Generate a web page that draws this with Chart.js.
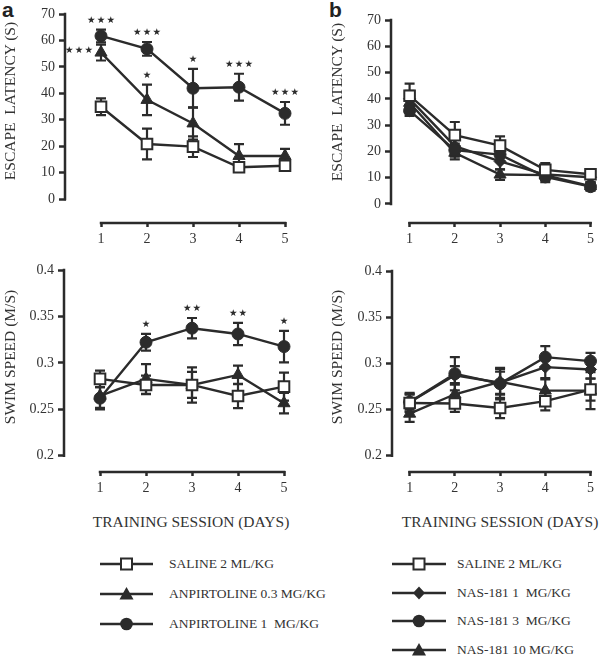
<!DOCTYPE html>
<html>
<head>
<meta charset="utf-8">
<script src="https://cdn.jsdelivr.net/npm/chart.js@4.4.1/dist/chart.umd.min.js"></script>
<style>
  body { margin: 0; background: #fff; }
  #wrap { position: relative; width: 600px; height: 658px; overflow: hidden;
          font-family: "Liberation Serif", "Times New Roman", serif; color: #333; }
  .plot { position: absolute; }
  .ytitle { position: absolute; transform: translate(-50%, -50%) rotate(-90deg);
            white-space: pre; font-size: 15.5px; }
  .xtitle { position: absolute; transform: translate(-50%, -50%); white-space: pre; font-size: 15.5px; }
  .letter { position: absolute; top: -2px; font: bold 21px "Liberation Sans", Arial, sans-serif; color: #222; }
  .leg { position: absolute; height: 16px; display: flex; align-items: center; font-size: 13.5px; white-space: pre; }
  .leg svg { position: absolute; top: 0; }
</style>
</head>
<body>
<div id="wrap">
  <div class="letter" style="left:2px">a</div>
  <div class="letter" style="left:329px">b</div>

  <div class="plot" style="left:0;top:0"><canvas id="latA" width="300" height="255"></canvas></div>
  <div class="plot" style="left:300px;top:0"><canvas id="latB" width="300" height="255"></canvas></div>
  <div class="plot" style="left:0;top:255px"><canvas id="spdA" width="300" height="245"></canvas></div>
  <div class="plot" style="left:300px;top:255px"><canvas id="spdB" width="300" height="245"></canvas></div>

  <div class="ytitle" style="left:10px;top:101px">ESCAPE  LATENCY (S)</div>
  <div class="ytitle" style="left:337px;top:102px">ESCAPE  LATENCY (S)</div>
  <div class="ytitle" style="left:10px;top:357px">SWIM SPEED (M/S)</div>
  <div class="ytitle" style="left:337px;top:357px">SWIM SPEED (M/S)</div>
  <div class="xtitle" style="left:191px;top:522px">TRAINING SESSION (DAYS)</div>
  <div class="xtitle" style="left:500px;top:522px">TRAINING SESSION (DAYS)</div>

  <div id="legA"></div>
  <div id="legB"></div>
</div>

<script>
const days = [1, 2, 3, 4, 5];
const latencyTicks = [0, 10, 20, 30, 40, 50, 60, 70];
const speedTicks = [0.2, 0.25, 0.3, 0.35, 0.4];

// panel a - escape latency (s)
const salineA_lat = [34.9, 20.8, 19.8, 12.0, 12.6];
const salineA_latErr = [3.2, 5.8, 3.9, 1.5, 1.3];
const anp03_lat = [55.4, 37.5, 28.6, 16.3, 16.3];
const anp03_latErr = [3.0, 5.8, 6.1, 4.5, 2.7];
const anp1_lat = [61.7, 56.8, 41.9, 42.3, 32.4];
const anp1_latErr = [2.4, 2.6, 7.3, 5.1, 4.3];
const anp03_latStars = [3, 1, 0, 0, 0];
const anp1_latStars = [3, 3, 1, 3, 3];

// panel a - swim speed (m/s)
const salineA_spd = [0.2827, 0.2762, 0.2762, 0.2643, 0.2744];
const salineA_spdErr = [0.009, 0.010, 0.014, 0.013, 0.015];
const anp03_spd = [0.2645, 0.2827, 0.2762, 0.2870, 0.2565];
const anp03_spdErr = [0.013, 0.016, 0.019, 0.010, 0.011];
const anp1_spd = [0.2619, 0.3222, 0.3373, 0.3311, 0.3175];
const anp1_spdErr = [0.012, 0.009, 0.011, 0.012, 0.017];
const anp1_spdStars = [0, 1, 2, 2, 1];

// panel b - escape latency (s)
const salineB_lat = [41.2, 26.2, 22.2, 13.0, 11.3];
const salineB_latErr = [4.6, 5.0, 3.5, 2.6, 1.6];
const nas1_lat = [40.0, 22.0, 16.2, 11.2, 10.2];
const nas1_latErr = [3.0, 3.0, 3.0, 2.0, 2.0];
const nas3_lat = [35.5, 20.5, 18.8, 10.3, 6.6];
const nas3_latErr = [2.0, 2.5, 2.5, 2.0, 1.5];
const nas10_lat = [38.5, 19.5, 11.2, 11.0, 6.8];
const nas10_latErr = [2.5, 2.5, 2.0, 1.5, 1.5];

// panel b - swim speed (m/s)
const salineB_spd = [0.2570, 0.2565, 0.2517, 0.2590, 0.2716];
const salineB_spdErr = [0.010, 0.009, 0.011, 0.010, 0.012];
const nas1_spd = [0.2580, 0.2870, 0.2790, 0.2959, 0.2934];
const nas1_spdErr = [0.008, 0.010, 0.012, 0.012, 0.010];
const nas3_spd = [0.2580, 0.2888, 0.2780, 0.3067, 0.3024];
const nas3_spdErr = [0.010, 0.018, 0.017, 0.012, 0.009];
const nas10_spd = [0.2455, 0.2665, 0.2800, 0.2705, 0.2705];
const nas10_spdErr = [0.009, 0.012, 0.014, 0.012, 0.020];

const legendA = [['square', 'SALINE 2 ML/KG'], ['triangle', 'ANPIRTOLINE 0.3 MG/KG'], ['circle', 'ANPIRTOLINE 1  MG/KG']];
const legendB = [['square', 'SALINE 2 ML/KG'], ['diamond', 'NAS-181 1  MG/KG'], ['circle', 'NAS-181 3  MG/KG'], ['triangle', 'NAS-181 10 MG/KG']];

const ink = '#2b2b2b';
const serif = '"Liberation Serif", "Times New Roman", serif';
Chart.defaults.font.family = serif;
Chart.defaults.font.size = 14;
Chart.defaults.color = '#333';

const markers = {
  square:   { pointStyle: 'rect',     pointRadius: 7.5, pointBackgroundColor: '#fff', pointBorderWidth: 2 },
  triangle: { pointStyle: 'triangle', pointRadius: 7,   pointBackgroundColor: ink,    pointBorderWidth: 1 },
  circle:   { pointStyle: 'circle',   pointRadius: 6,   pointBackgroundColor: ink,    pointBorderWidth: 1 },
  diamond:  { pointStyle: 'rectRot',  pointRadius: 6,   pointBackgroundColor: ink,    pointBorderWidth: 1 },
};

// vertical error bars with caps, drawn under the lines
const errorBars = {
  id: 'errorBars',
  beforeDatasetsDraw(chart) {
    const { ctx, scales: { x, y } } = chart;
    ctx.save();
    ctx.strokeStyle = ink;
    ctx.lineWidth = 2.2;
    chart.data.datasets.forEach(ds => {
      if (!ds.errors) return;
      ds.data.forEach((p, i) => {
        const px = x.getPixelForValue(p.x);
        const top = y.getPixelForValue(p.y + ds.errors[i]);
        const bot = y.getPixelForValue(p.y - ds.errors[i]);
        ctx.beginPath();
        ctx.moveTo(px, top); ctx.lineTo(px, bot);
        ctx.moveTo(px - 5, top); ctx.lineTo(px + 5, top);
        ctx.moveTo(px - 5, bot); ctx.lineTo(px + 5, bot);
        ctx.stroke();
      });
    });
    ctx.restore();
  }
};

// significance stars above the error bar (or beside the point)
const stars = {
  id: 'stars',
  afterDatasetsDraw(chart) {
    const { ctx, scales: { x, y } } = chart;
    ctx.save();
    ctx.fillStyle = ink;
    ctx.font = '9.5px "DejaVu Sans"';
    ctx.textAlign = 'center';
    ctx.textBaseline = 'middle';
    chart.data.datasets.forEach(ds => {
      if (!ds.stars) return;
      ds.stars.forEach((n, i) => {
        if (!n) return;
        const p = ds.data[i];
        let cx = x.getPixelForValue(p.x);
        let cy = y.getPixelForValue(p.y + ds.errors[i]) - 9;
        if (ds.starsBeside && ds.starsBeside.includes(i)) {
          cx = cx - 12 - (n - 1) * 5;
          cy = y.getPixelForValue(p.y) - 2;
        }
        for (let k = 0; k < n; k++) {
          ctx.fillText('\u2605', cx + (k - (n - 1) / 2) * 9.7, cy);
        }
      });
    });
    ctx.restore();
  }
};

// y axis stops at the lowest tick, x axis runs from day 1 to day 5
const bracketAxes = {
  id: 'bracketAxes',
  beforeDatasetsDraw(chart, args, opts) {
    const { ctx, chartArea, scales: { x, y } } = chart;
    ctx.save();
    ctx.strokeStyle = ink;
    ctx.lineWidth = 2.5;
    ctx.beginPath();
    const ax = chartArea.left - 1;
    ctx.moveTo(ax, y.getPixelForValue(opts.yTop) - 1.25);
    ctx.lineTo(ax, y.getPixelForValue(opts.yBottom) + 1.25);
    const ay = chartArea.bottom + 1;
    ctx.moveTo(x.getPixelForValue(days[0]) - 1.25, ay);
    ctx.lineTo(x.getPixelForValue(days[days.length - 1]) + 1.25, ay);
    ctx.stroke();
    ctx.restore();
  }
};

function series(values, errors, shape, extra) {
  return Object.assign({
    data: days.map((d, i) => ({ x: d, y: values[i] })),
    errors: errors,
    borderColor: ink,
    borderWidth: 2.4,
    pointBorderColor: ink,
    tension: 0,
    clip: false,
  }, markers[shape], extra || {});
}

function makePanel(id, cfg) {
  return new Chart(document.getElementById(id), {
    type: 'line',
    data: { datasets: cfg.datasets },
    options: {
      responsive: false,
      animation: false,
      events: [],
      layout: { padding: { top: cfg.padTop, right: cfg.padRight, left: 0, bottom: 0 } },
      plugins: {
        legend: { display: false },
        tooltip: { enabled: false },
        bracketAxes: { yTop: cfg.yTicks[cfg.yTicks.length - 1], yBottom: cfg.yTicks[0] },
      },
      scales: {
        x: {
          type: 'linear',
          min: cfg.xMin,
          max: 5,
          afterBuildTicks: s => { s.ticks = days.map(v => ({ value: v })); },
          afterFit: s => { s.height = cfg.xHeight; },
          border: { display: false },
          grid: { drawOnChartArea: false, tickLength: 5, tickWidth: 2.5, tickColor: ink },
          ticks: { padding: 4, maxRotation: 0, autoSkip: false, font: { family: serif, size: 14 } },
        },
        y: {
          type: 'linear',
          min: cfg.yMin,
          max: cfg.yTicks[cfg.yTicks.length - 1],
          afterBuildTicks: s => { s.ticks = cfg.yTicks.map(v => ({ value: v })); },
          afterFit: s => { s.width = cfg.yWidth; },
          border: { display: false },
          grid: { drawOnChartArea: false, tickLength: 7, tickWidth: 2.5, tickColor: ink },
          ticks: { padding: 4, autoSkip: false, font: { family: serif, size: 14 },
                   callback: v => String(+v.toFixed(2)) },
        },
      },
    },
    plugins: [bracketAxes, errorBars, stars],
  });
}

function drawAll() {
  makePanel('latA', {
    xMin: 0.239, yMin: -8.7, yTicks: latencyTicks,
    yWidth: 66, xHeight: 33, padTop: 14, padRight: 15,
    datasets: [
      series(anp1_lat, anp1_latErr, 'circle', { stars: anp1_latStars }),
      series(anp03_lat, anp03_latErr, 'triangle', { stars: anp03_latStars, starsBeside: [0] }),
      series(salineA_lat, salineA_latErr, 'square'),
    ],
  });

  makePanel('latB', {
    xMin: 0.611, yMin: -6.85, yTicks: latencyTicks,
    yWidth: 92, xHeight: 33, padTop: 20, padRight: 5,
    datasets: [
      series(salineB_lat, salineB_latErr, 'square'),
      series(nas3_lat, nas3_latErr, 'circle'),
      series(nas1_lat, nas1_latErr, 'diamond'),
      series(nas10_lat, nas10_latErr, 'triangle'),
    ],
  });

  makePanel('spdA', {
    xMin: 0.239, yMin: 0.1835, yTicks: speedTicks,
    yWidth: 65, xHeight: 29, padTop: 15, padRight: 16,
    datasets: [
      series(salineA_spd, salineA_spdErr, 'square'),
      series(anp1_spd, anp1_spdErr, 'circle', { stars: anp1_spdStars }),
      series(anp03_spd, anp03_spdErr, 'triangle'),
    ],
  });

  makePanel('spdB', {
    xMin: 0.632, yMin: 0.1834, yTicks: speedTicks,
    yWidth: 93, xHeight: 29, padTop: 16, padRight: 5,
    datasets: [
      series(salineB_spd, salineB_spdErr, 'square'),
      series(nas3_spd, nas3_spdErr, 'circle'),
      series(nas1_spd, nas1_spdErr, 'diamond'),
      series(nas10_spd, nas10_spdErr, 'triangle'),
    ],
  });
}

// legend keys: a line with the marker in the middle
function keySvg(shape, w) {
  const c = w / 2;
  let m = '';
  if (shape === 'square') m = `<rect x="${c - 5.5}" y="2.5" width="11" height="11" fill="#fff" stroke="${ink}" stroke-width="2"/>`;
  if (shape === 'circle') m = `<circle cx="${c}" cy="8" r="6.3" fill="${ink}"/>`;
  if (shape === 'triangle') m = `<polygon points="${c},1 ${c + 7},13.5 ${c - 7},13.5" fill="${ink}"/>`;
  if (shape === 'diamond') m = `<polygon points="${c},1.5 ${c + 6},8 ${c},14.5 ${c - 6},8" fill="${ink}"/>`;
  return `<svg width="${w}" height="16"><line x1="0" y1="8" x2="${w}" y2="8" stroke="${ink}" stroke-width="2.5"/>${m}</svg>`;
}

function buildLegend(el, items, lineLeft, lineW, textLeft, rows) {
  el.innerHTML = items.map((it, i) =>
    `<div class="leg" style="left:${lineLeft}px;top:${rows[i] - 8}px">${keySvg(it[0], lineW)}` +
    `<span style="position:absolute;left:${textLeft - lineLeft}px">${it[1]}</span></div>`
  ).join('');
}

buildLegend(document.getElementById('legA'), legendA, 100, 53, 169, [564, 594, 624]);
buildLegend(document.getElementById('legB'), legendB, 392, 54, 457, [564, 592.5, 621, 649.5]);

// canvas text needs the fonts loaded first
Promise.all([
  document.fonts.load('14px "Liberation Serif"'),
  document.fonts.load('10px "DejaVu Sans"'),
]).then(drawAll, drawAll);
</script>
</body>
</html>
